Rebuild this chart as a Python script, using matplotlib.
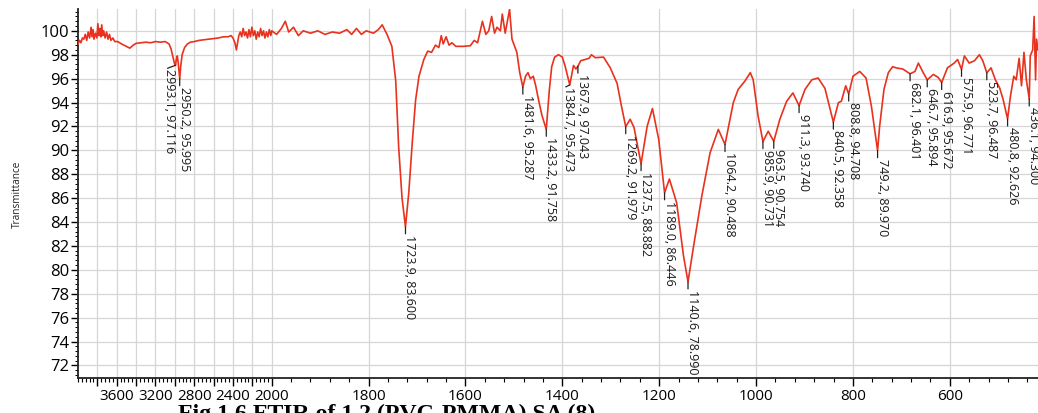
import numpy as np
import matplotlib
matplotlib.use("Agg")
import matplotlib.pyplot as plt
from matplotlib.ticker import FixedLocator, MultipleLocator, AutoMinorLocator, FuncFormatter

# ---- spectrum (wavenumber in cm-1, transmittance in %) ----
wavenumber = [
    4000, 3985, 3970, 3955, 3940, 3925, 3910, 3895, 3880, 3865, 3855, 3845, 3835, 3820,
    3805, 3795, 3785, 3775, 3765, 3755, 3745, 3735, 3720, 3705, 3690, 3675, 3660, 3640,
    3620, 3590, 3550, 3500, 3465, 3430, 3400, 3350, 3300, 3250, 3200, 3150, 3100, 3060,
    3040, 3020, 3005, 2985, 2975, 2965, 2940, 2925, 2900, 2870, 2840, 2800, 2750, 2700,
    2650, 2600, 2550, 2500, 2450, 2420, 2400, 2380, 2365, 2355, 2340, 2325, 2310, 2295,
    2280, 2265, 2250, 2235, 2220, 2205, 2190, 2175, 2160, 2145, 2130, 2115, 2100, 2085,
    2070, 2055, 2040, 2025, 2010, 2000,
    1990, 1980, 1972, 1965, 1955, 1945, 1935, 1920, 1905, 1890, 1875, 1860, 1845, 1835,
    1825, 1815, 1805, 1790, 1780, 1772, 1762, 1752, 1744, 1738, 1731, 1717, 1710, 1703,
    1696, 1686, 1678, 1670, 1662, 1655, 1650, 1646, 1640, 1634, 1628, 1620, 1605, 1590,
    1582, 1575, 1565, 1558, 1552, 1546, 1540, 1535, 1528, 1524, 1518, 1509, 1504, 1494,
    1488, 1476, 1471, 1466, 1460, 1455, 1448, 1442, 1427, 1422, 1416, 1408, 1400, 1394,
    1377, 1372, 1362, 1353, 1345, 1340, 1332, 1315, 1301, 1287, 1278, 1260, 1252, 1225,
    1214, 1201, 1179, 1164, 1150, 1129, 1112, 1095, 1078, 1047, 1037, 1023, 1012, 1006,
    996, 975, 951, 937, 924, 899, 885, 872, 858, 830, 824, 815, 800, 786, 773, 762, 745,
    736, 727, 718, 711, 697, 672, 665, 655, 634, 624, 605, 591, 584, 570, 560, 549, 539,
    532, 515, 506, 497, 490, 475, 468, 463, 457, 452, 447, 442, 434, 429, 426, 423, 421,
    418,
]
transmittance = [
    98.9, 99.2, 99.0, 99.4, 99.3, 99.7, 99.2, 99.9, 99.4, 100.3, 99.5, 100.1, 99.3, 99.8,
    99.4, 100.6, 99.6, 100.2, 99.5, 100.5, 99.6, 100.0, 99.4, 99.9, 99.3, 99.7, 99.2, 99.4,
    99.1, 99.1, 98.9, 98.7, 98.55, 98.8, 98.95, 99.0, 99.05, 99.0, 99.1, 99.05, 99.1, 98.9,
    98.5, 97.8, 97.3, 97.6, 97.9, 97.3, 97.0, 98.0, 98.6, 98.9, 99.05, 99.1, 99.2, 99.25,
    99.3, 99.35, 99.4, 99.5, 99.5, 99.6, 99.4, 99.0, 98.4, 98.9, 99.6, 99.9, 99.5, 100.2,
    99.6, 99.9, 99.4, 100.1, 99.5, 100.3, 99.6, 100.0, 99.3, 99.9, 99.5, 100.2, 99.6, 100.0,
    99.4, 99.9, 99.5, 100.1, 99.6, 100.0,
    99.7, 100.2, 100.8, 99.9, 100.3, 99.6, 100.0, 99.8, 100.0, 99.7, 99.9, 99.8, 100.1, 99.7,
    100.2, 99.7, 100.0, 99.8, 100.1, 100.5, 99.7, 98.7, 95.8, 90.3, 86.0, 86.5, 90.6, 94.2,
    96.2, 97.6, 98.3, 98.2, 98.8, 98.6, 99.6, 98.9, 99.5, 98.8, 99.0, 98.7, 98.7, 98.75,
    99.2, 99.0, 100.8, 99.7, 100.0, 101.2, 99.8, 100.3, 100.0, 101.4, 99.8, 101.8, 99.3, 98.2,
    96.5, 96.2, 96.5, 96.0, 96.2, 95.4, 94.0, 92.9, 95.0, 97.0, 97.8, 98.0, 97.8, 97.0,
    97.1, 96.8, 97.5, 97.6, 97.7, 98.0, 97.75, 97.8, 96.9, 95.6, 93.7, 92.6, 91.9, 92.0,
    93.5, 90.9, 87.6, 85.6, 81.2, 82.0, 86.2, 89.8, 91.75, 94.0, 95.1, 95.8, 96.5, 95.9,
    92.9, 91.6, 92.6, 94.1, 94.8, 95.1, 95.9, 96.05, 95.2, 94.0, 94.1, 95.4, 96.2, 96.6, 96.05, 93.7, 92.0,
    95.1, 96.5, 97.0, 96.9, 96.8, 96.6, 97.3, 96.5, 96.35, 96.1, 96.9, 97.3, 97.6, 97.9, 97.3, 97.5, 98.0,
    97.5, 96.9, 95.9, 95.2, 94.25, 94.5, 96.2, 95.9, 97.7, 95.4, 98.2, 95.9, 97.9, 98.4, 101.2, 95.9, 99.3,
    98.4,
]

# ---- picked peaks ----
peak_wavenumber = [2993.1, 2950.2, 1723.9, 1481.6, 1433.2, 1384.7, 1367.9, 1269.2,
                   1237.5, 1189.0, 1140.6, 1064.2, 985.9, 963.5, 911.3, 840.5, 808.8,
                   749.2, 682.1, 646.7, 616.9, 575.9, 523.7, 480.8, 436.1]
peak_transmittance = [97.116, 95.995, 83.600, 95.287, 91.758, 95.473, 97.043, 91.979,
                      88.882, 86.446, 78.990, 90.488, 90.731, 90.754, 93.740, 92.358,
                      94.708, 89.970, 96.401, 95.894, 95.672, 96.771, 96.487, 92.626,
                      94.300]

x_major_ticks = [3800, 3600, 3400, 3200, 3000, 2800, 2600, 2400, 2200, 2000,
                 1800, 1600, 1400, 1200, 1000, 800, 600]
x_labelled_left = [3600, 3200, 2800, 2400, 2000]
y_ticks = list(range(72, 101, 2))

# label placement tweaks where neighbouring labels collide (pixels):
# (text dx, text dy, leader end dx, leader end dy)
label_shift = {2993.1: (-10, -4, -8, -3), 1384.7: (-5, -2, -4, -2)}
default_shift = (1, -8, 0, -7)

SPLIT = 2000.0
SQUEEZE = 0.2


def fwd(x):
    x = np.asarray(x, dtype=float)
    return np.where(x > SPLIT, SPLIT + (x - SPLIT) * SQUEEZE, x)


def inv(u):
    u = np.asarray(u, dtype=float)
    return np.where(u > SPLIT, SPLIT + (u - SPLIT) / SQUEEZE, u)


W, H = 1038, 413
fig = plt.figure(figsize=(W / 100, H / 100), dpi=100)
ax = fig.add_axes([78 / W, 1 - 378 / H, (1038 - 78) / W, (378 - 9.3) / H])

w_all = np.concatenate([wavenumber, peak_wavenumber])
t_all = np.concatenate([transmittance, peak_transmittance])
order = np.argsort(-w_all)

ax.set_xscale('function', functions=(fwd, inv))
ax.plot(w_all[order], t_all[order], color='#e8321e', lw=1.2, zorder=3)
ax.set_xlim(4000, 418)
ax.set_ylim(70.95, 101.8)

ax.xaxis.set_major_locator(FixedLocator(x_major_ticks))
ax.xaxis.set_minor_locator(MultipleLocator(40))


def xfmt(v, pos):
    v = int(round(v))
    if v > SPLIT and v not in x_labelled_left:
        return ''
    return str(v)


ax.xaxis.set_major_formatter(FuncFormatter(xfmt))
ax.yaxis.set_major_locator(FixedLocator(y_ticks))
ax.yaxis.set_minor_locator(AutoMinorLocator(5))
ax.tick_params(axis='x', which='major', length=6, width=1, pad=2, labelsize=11)
ax.tick_params(axis='x', which='minor', length=3, width=0.8)
ax.tick_params(axis='y', which='major', length=5, width=1, pad=1.5, labelsize=12)
ax.tick_params(axis='y', which='minor', length=2.5, width=0.7)
for lab in ax.get_xticklabels() + ax.get_yticklabels():
    lab.set_fontfamily('Open Sans')

ax.grid(True, which='major', color='#d6d6d6', lw=0.9, zorder=0)
ax.set_axisbelow(True)
for side in ('top', 'right'):
    ax.spines[side].set_visible(False)
for side in ('left', 'bottom'):
    ax.spines[side].set_linewidth(1.3)
    ax.spines[side].set_color('#222222')

for w, t in zip(peak_wavenumber, peak_transmittance):
    tdx, tdy, ldx, ldy = label_shift.get(w, default_shift)
    ax.annotate('', xy=(w, t), xytext=(ldx, ldy), textcoords='offset pixels',
                arrowprops=dict(arrowstyle='-', color='#222222', lw=0.9,
                                shrinkA=0, shrinkB=0), zorder=4)
    ax.annotate(f'{w:.1f}, {t:.3f}', xy=(w, t), xytext=(tdx, tdy),
                textcoords='offset pixels', rotation=-90, rotation_mode='anchor',
                ha='left', va='baseline', fontsize=9, family='Open Sans',
                color='#1a1a1a', zorder=5, annotation_clip=False)

fig.text(17 / W, 1 - 194 / H, 'Transmittance', rotation=90, ha='center',
         va='center', fontsize=7.2, family='Open Sans', color='#222222')
fig.text(178 / W, 1 - 420 / H, 'Fig 1.6 FTIR of 1.2 (PVC-PMMA) SA (8)',
         ha='left', va='baseline', fontsize=17.2, fontweight='bold',
         family='Liberation Serif', color='black')

fig.savefig('out.png', dpi=100)
